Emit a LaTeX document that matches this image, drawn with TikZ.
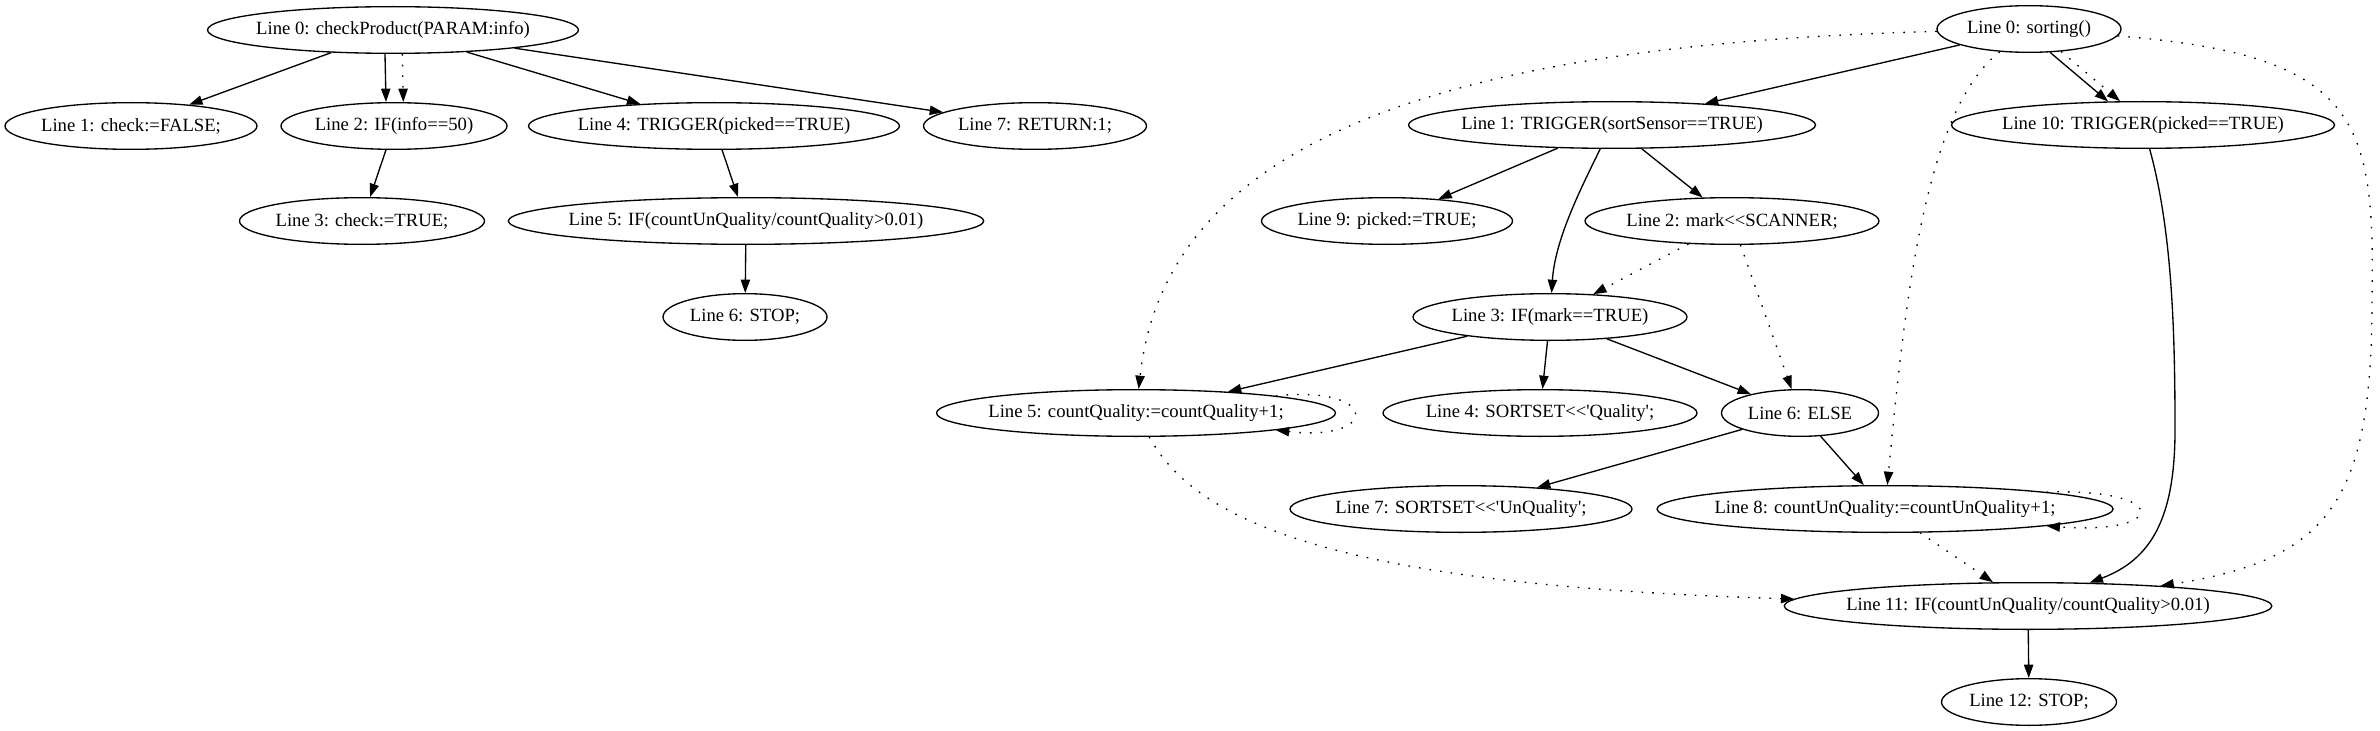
\documentclass[tikz,border=0pt]{standalone}
\usepackage{fontspec}
\setmainfont{Liberation Serif}[Ligatures=TeXOff]
\usetikzlibrary{shapes.geometric,arrows.meta}

\begin{document}
\begin{tikzpicture}[
    x=0.75pt, y=-0.75pt,                    % pixel units, y pointing down
    every node/.style={font=\fontsize{14pt}{16pt}\selectfont},
    stmt/.style={                           % statement node
        ellipse,                            % Ellipse shape
        draw=black,                         % Border line color
        line width=1pt,                     % Border line width
        inner xsep=-7pt,                    % width is set by wide=...
        inner ysep=0pt,
        minimum height=35pt                 % Same height for all nodes
    },
    wide/.style={minimum width=#1*0.75pt},  % ellipse width in pixels
    flow/.style={-{Triangle[length=10pt,width=7pt]}, line width=1pt},
    dep/.style={flow, dash pattern=on 1.2pt off 6.8pt}
]
\useasboundingbox (0,0) rectangle (2380,731);

% checkProduct
\node[stmt, wide=371] (c0) at (393,30)   {Line 0: checkProduct(PARAM:info)};
\node[stmt, wide=252] (c1) at (131,126)  {Line 1: check:=FALSE;};
\node[stmt, wide=226] (c2) at (394,126)  {Line 2: IF(info==50)};
\node[stmt, wide=371] (c4) at (714,126)  {Line 4: TRIGGER(picked==TRUE)};
\node[stmt, wide=223] (c7) at (1035,126) {Line 7: RETURN:1;};
\node[stmt, wide=245] (c3) at (362,221)  {Line 3: check:=TRUE;};
\node[stmt, wide=475] (c5) at (746,221)  {Line 5: IF(countUnQuality/countQuality>0.01)};
\node[stmt, wide=164] (c6) at (745,317)  {Line 6: STOP;};

\draw[flow] (c0) -- (c1);
\draw[flow] ([xshift=-6pt]c0.south) -- ([xshift=-6pt]c2.north);
\draw[dep]  ([xshift=7pt]c0.south) -- ([xshift=7pt]c2.north);
\draw[flow] (c0) -- (c4);
\draw[flow] (c0) -- (c7);
\draw[flow] (c2) -- (c3);
\draw[flow] (c4) -- (c5);
\draw[flow] (c5) -- (c6);

% sorting
\node[stmt, wide=184] (s0)  at (2029,29)  {Line 0: sorting()};
\node[stmt, wide=407] (s1)  at (1612,125) {Line 1: TRIGGER(sortSensor==TRUE)};
\node[stmt, wide=383] (s10) at (2143,125) {Line 10: TRIGGER(picked==TRUE)};
\node[stmt, wide=251] (s9)  at (1387,221) {Line 9: picked:=TRUE;};
\node[stmt, wide=294] (s2)  at (1732,221) {Line 2: mark<<SCANNER;};
\node[stmt, wide=274] (s3)  at (1550,317) {Line 3: IF(mark==TRUE)};
\node[stmt, wide=399] (s5)  at (1136,413) {Line 5: countQuality:=countQuality+1;};
\node[stmt, wide=314] (s4)  at (1540,413) {Line 4: SORTSET<<'Quality';};
\node[stmt, wide=157] (s6)  at (1800,413) {Line 6: ELSE};
\node[stmt, wide=342] (s7)  at (1461,509) {Line 7: SORTSET<<'UnQuality';};
\node[stmt, wide=456] (s8)  at (1885,509) {Line 8: countUnQuality:=countUnQuality+1;};
\node[stmt, wide=487] (s11) at (2028,606) {Line 11: IF(countUnQuality/countQuality>0.01)};
\node[stmt, wide=175] (s12) at (2029,702) {Line 12: STOP;};

\draw[flow] (s0) -- (s1);
\draw[flow] (s0.-48) -- (s10.146);
\draw[dep]  (s0.-35) -- (s10.134);
\draw[dep]  (s0) .. controls (1420,45) and (1165,150) .. (s5);
\draw[dep]  (s0) .. controls (1925,110) and (1905,300) .. (s8);
\draw[dep]  (s0) .. controls (2360,55) and (2375,120) .. (2372,300)
                 .. controls (2372,500) and (2330,560) .. (s11);
\draw[flow] (s1) -- (s9);
\draw[flow] (s1) .. controls (1580,190) and (1555,240) .. (s3);
\draw[flow] (s1) -- (s2);
\draw[dep]  (s2) -- (s3);
\draw[dep]  (s2) -- (s6);
\draw[flow] (s3) -- (s5);
\draw[flow] (s3) -- (s4);
\draw[flow] (s3) -- (s6);
\draw[dep]  (s5.7) .. controls (1380,385) and (1380,442) .. (s5.-7);
\draw[dep]  (s5) .. controls (1195,520) and (1330,585) .. (s11);
\draw[flow] (s6) -- (s7);
\draw[flow] (s6) -- (s8);
\draw[dep]  (s8.6) .. controls (2170,488) and (2170,535) .. (s8.-6);
\draw[dep]  (s8) -- (s11);
\draw[flow] (s10) .. controls (2172,230) and (2175,330) .. (2175,430)
                  .. controls (2175,520) and (2150,560) .. (s11);
\draw[flow] (s11) -- (s12);

\end{tikzpicture}
\end{document}
